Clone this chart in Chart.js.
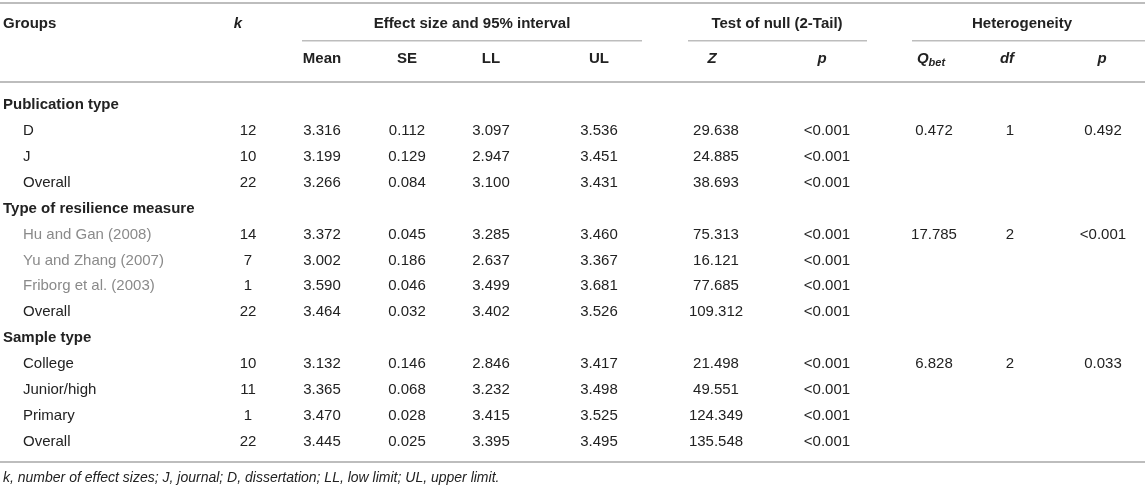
<!DOCTYPE html>
<html><head><meta charset="utf-8">
<script src="https://cdn.jsdelivr.net/npm/chart.js@4.4.1/dist/chart.umd.min.js"></script>
<style>html,body{margin:0;padding:0;background:#fff;overflow:hidden}#wrap{width:1145px;height:497px}</style>
</head><body><div id="wrap"><canvas id="c" width="1145" height="497"></canvas></div>
<script>
// ---- data ----
const groupNames = ["Publication type", "Type of resilience measure", "Sample type"];
const rowLabels = ["D", "J", "Overall", "Hu and Gan (2008)", "Yu and Zhang (2007)", "Friborg et al. (2003)", "Overall", "College", "Junior/high", "Primary", "Overall"];
const rowGroup = [0, 0, 0, 1, 1, 1, 1, 2, 2, 2, 2];
const rowMuted = [false, false, false, true, true, true, false, false, false, false, false];
const kValues = [12, 10, 22, 14, 7, 1, 22, 10, 11, 1, 22];
const meanValues = [3.316, 3.199, 3.266, 3.372, 3.002, 3.590, 3.464, 3.132, 3.365, 3.470, 3.445];
const seValues = [0.112, 0.129, 0.084, 0.045, 0.186, 0.046, 0.032, 0.146, 0.068, 0.028, 0.025];
const llValues = [3.097, 2.947, 3.100, 3.285, 2.637, 3.499, 3.402, 2.846, 3.232, 3.415, 3.395];
const ulValues = [3.536, 3.451, 3.431, 3.460, 3.367, 3.681, 3.526, 3.417, 3.498, 3.525, 3.495];
const zValues = [29.638, 24.885, 38.693, 75.313, 16.121, 77.685, 109.312, 21.498, 49.551, 124.349, 135.548];
const pNullValues = ["<0.001", "<0.001", "<0.001", "<0.001", "<0.001", "<0.001", "<0.001", "<0.001", "<0.001", "<0.001", "<0.001"];
const qbetValues = [0.472, 17.785, 6.828];
const dfValues = [1, 2, 2];
const pHetValues = ["0.492", "<0.001", "0.033"];
const footnote = "k, number of effect sizes; J, journal; D, dissertation; LL, low limit; UL, upper limit.";

// ---- layout ----
const L = {
  labelX: 3, indentX: 23,
  colX: { k: 248, mean: 322, se: 407, ll: 491, ul: 599, z: 716, p: 827, q: 934, df: 1010, ph: 1103 },
  headX: { k: 238, mean: 322, se: 407, ll: 491, ul: 599, z: 712, p: 822, q: 931, df: 1007, ph: 1102 },
  spanX: [[302, 642, 472], [688, 867, 777], [912, 1145, 1022]],
  yTopLine: -3.94, yHead1: -3.13, ySubLine: -2.51, yHead2: -1.78, yMidLine: -0.89,
  yBottomLine: 13.78, yFoot: 14.40,
  fam: '"Liberation Sans", Arial, Helvetica, sans-serif', size: 15, footSize: 14,
  ink: '#222', muted: '#8a8a8a', rule: '#bdbdbd'
};

const f3 = v => v.toFixed(3);

const tablePlugin = {
  id: 'tableText',
  afterDraw(chart) {
    const ctx = chart.ctx, X = chart.scales.x, Y = chart.scales.y;
    const px = v => X.getPixelForValue(v), py = v => Y.getPixelForValue(v);
    ctx.save();
    ctx.textBaseline = 'middle';
    const txt = (s, x, y, align, font, color) => {
      ctx.font = font; ctx.fillStyle = color || L.ink; ctx.textAlign = align; ctx.fillText(s, px(x), py(y));
    };
    const line = (x0, x1, y, w) => {
      ctx.strokeStyle = L.rule; ctx.lineWidth = w;
      const yy = Math.round(py(y)) + 0.5 * (w % 2);
      ctx.beginPath(); ctx.moveTo(px(x0), yy); ctx.lineTo(px(x1), yy); ctx.stroke();
    };
    const B = `bold ${L.size}px ${L.fam}`, BI = `italic bold ${L.size}px ${L.fam}`, N = `${L.size}px ${L.fam}`;
    // rules
    line(0, 1145, L.yTopLine, 2);
    L.spanX.forEach(s => line(s[0], s[1], L.ySubLine, 1.5));
    line(0, 1145, L.yMidLine, 2);
    line(0, 1145, L.yBottomLine, 2);
    // headers
    txt('Groups', L.labelX, L.yHead1, 'left', B);
    txt('k', L.headX.k, L.yHead1, 'center', BI);
    txt('Effect size and 95% interval', L.spanX[0][2], L.yHead1, 'center', B);
    txt('Test of null (2-Tail)', L.spanX[1][2], L.yHead1, 'center', B);
    txt('Heterogeneity', L.spanX[2][2], L.yHead1, 'center', B);
    txt('Mean', L.headX.mean, L.yHead2, 'center', B);
    txt('SE', L.headX.se, L.yHead2, 'center', B);
    txt('LL', L.headX.ll, L.yHead2, 'center', B);
    txt('UL', L.headX.ul, L.yHead2, 'center', B);
    txt('Z', L.headX.z, L.yHead2, 'center', BI);
    txt('p', L.headX.p, L.yHead2, 'center', BI);
    // Q_bet
    const subFont = `italic bold ${Math.round(L.size * 0.72)}px ${L.fam}`;
    ctx.font = BI; const qw = ctx.measureText('Q').width;
    ctx.font = subFont; const bw = ctx.measureText('bet').width;
    const qx = px(L.headX.q) - (qw + bw) / 2;
    ctx.textAlign = 'left'; ctx.fillStyle = L.ink;
    ctx.font = BI; ctx.fillText('Q', qx, py(L.yHead2));
    ctx.font = subFont; ctx.fillText('bet', qx + qw, py(L.yHead2) + 4);
    txt('df', L.headX.df, L.yHead2, 'center', BI);
    txt('p', L.headX.ph, L.yHead2, 'center', BI);
    // body
    let r = 0, gPrev = -1, firstInGroup = false;
    rowLabels.forEach((lab, i) => {
      const g = rowGroup[i];
      if (g !== gPrev) { txt(groupNames[g], L.labelX, r, 'left', B); r++; gPrev = g; firstInGroup = true; }
      txt(lab, L.indentX, r, 'left', N, rowMuted[i] ? L.muted : L.ink);
      txt(String(kValues[i]), L.colX.k, r, 'center', N);
      txt(f3(meanValues[i]), L.colX.mean, r, 'center', N);
      txt(f3(seValues[i]), L.colX.se, r, 'center', N);
      txt(f3(llValues[i]), L.colX.ll, r, 'center', N);
      txt(f3(ulValues[i]), L.colX.ul, r, 'center', N);
      txt(f3(zValues[i]), L.colX.z, r, 'center', N);
      txt(pNullValues[i], L.colX.p, r, 'center', N);
      if (firstInGroup) {
        txt(f3(qbetValues[g]), L.colX.q, r, 'center', N);
        txt(String(dfValues[g]), L.colX.df, r, 'center', N);
        txt(pHetValues[g], L.colX.ph, r, 'center', N);
        firstInGroup = false;
      }
      r++;
    });
    txt(footnote, L.labelX, L.yFoot, 'left', `italic ${L.footSize}px ${L.fam}`);
    ctx.restore();
  }
};

new Chart(document.getElementById('c'), {
  type: 'scatter',
  data: { datasets: [{ data: [] }] },
  options: {
    responsive: false, animation: false, devicePixelRatio: 1,
    layout: { padding: 0 },
    plugins: { legend: { display: false }, tooltip: { enabled: false } },
    scales: {
      x: { type: 'linear', min: 0, max: 1145, display: false },
      y: { type: 'linear', min: -4.054, max: 15.135, reverse: true, display: false }
    }
  },
  plugins: [tablePlugin]
});
</script></body></html>
